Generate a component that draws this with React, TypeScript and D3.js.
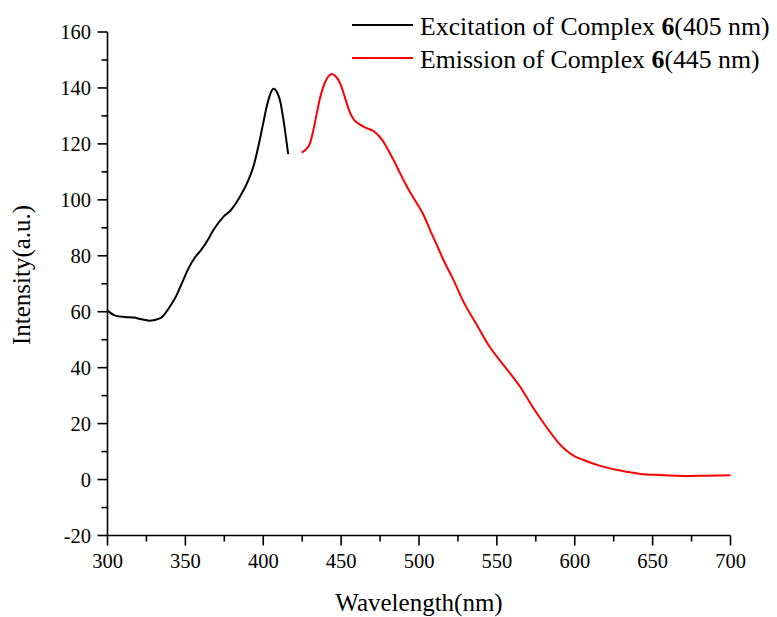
import React, { useEffect, useRef } from "react";
import * as d3 from "d3";

const excitationWavelength = [300, 305, 311, 317, 321, 327, 334, 340, 344, 348, 352, 356, 360, 364, 368, 374.5, 379, 385, 390.5, 394, 396, 398, 400, 402, 404, 406.5, 409, 411, 413, 416];
const excitationIntensity = [60.4, 58.6, 58.1, 57.9, 57.4, 56.8, 57.7, 61.8, 65.5, 70.5, 75.5, 79.3, 82, 85.3, 89.2, 94, 96.2, 101.1, 107.1, 112.5, 117, 122, 127.5, 132.8, 137, 139.7, 138.3, 135, 128.5, 116.3];

const emissionWavelength = [424.7, 427, 430, 432, 434.4, 436.5, 438.6, 441, 444, 446.5, 449.3, 451.5, 453.6, 456, 458, 461, 464.3, 467.5, 470.7, 474, 477.1, 480, 483.6, 487, 490, 494, 498.6, 503, 507.1, 511.4, 515.7, 522.1, 528.5, 537.1, 544.6, 554.2, 564.9, 573.5, 583.1, 589, 595, 600, 605.6, 616.3, 629.2, 642, 654.9, 669.8, 684.8, 700];
const emissionIntensity = [116.9, 117.8, 120.2, 124.5, 131, 136.5, 140.5, 143.5, 145, 144.2, 141.7, 138.3, 134.5, 130.8, 128.8, 127.3, 126.2, 125.4, 124.6, 123, 120.8, 118, 114.3, 110.5, 107.1, 103, 98.8, 94.5, 89.2, 83.9, 78.5, 71.4, 63.6, 55.3, 48.1, 41, 33.2, 25.5, 17.8, 13.5, 10.2, 8.3, 7.0, 4.9, 3.2, 2.0, 1.6, 1.3, 1.4, 1.5];

const xTicks = [300, 350, 400, 450, 500, 550, 600, 650, 700];
const xMinorTicks = [325, 375, 425, 475, 525, 575, 625, 675];
const yTicks = [-20, 0, 20, 40, 60, 80, 100, 120, 140, 160];
const yMinorTicks = [-10, 10, 30, 50, 70, 90, 110, 130, 150];

const seriesNames = ["Excitation of Complex ", "Emission of Complex "];
const seriesSuffix = ["(405 nm)", "(445 nm)"];
const seriesColors = ["#000000", "#ff0000"];

const W = 777;
const H = 617;
const FONT = "'Liberation Serif', 'Times New Roman', serif";

export default function App() {
  const ref = useRef<SVGSVGElement>(null);

  useEffect(() => {
    const svg = d3.select(ref.current);
    svg.selectAll("*").remove();

    const x = d3.scaleLinear().domain([300, 700]).range([107.5, 730.5]);
    const y = d3.scaleLinear().domain([-20, 160]).range([535.5, 32]);

    const g = svg.append("g");

    g.append("line").attr("x1", x(300)).attr("x2", x(700)).attr("y1", y(-20)).attr("y2", y(-20))
      .attr("stroke", "#000").attr("stroke-width", 1.6);
    g.append("line").attr("x1", x(300)).attr("x2", x(300)).attr("y1", y(-20)).attr("y2", y(160))
      .attr("stroke", "#000").attr("stroke-width", 1.6);

    xTicks.forEach((t) => {
      g.append("line").attr("x1", x(t)).attr("x2", x(t)).attr("y1", y(-20)).attr("y2", y(-20) + 10)
        .attr("stroke", "#000").attr("stroke-width", 1.6);
      g.append("text").attr("x", x(t)).attr("y", 568).attr("text-anchor", "middle")
        .attr("font-family", FONT).attr("font-size", 20.5).attr("fill", "#000").text(t);
    });
    xMinorTicks.forEach((t) => {
      g.append("line").attr("x1", x(t)).attr("x2", x(t)).attr("y1", y(-20)).attr("y2", y(-20) + 6)
        .attr("stroke", "#000").attr("stroke-width", 1.6);
    });
    yTicks.forEach((t) => {
      g.append("line").attr("x1", x(300) - 10).attr("x2", x(300)).attr("y1", y(t)).attr("y2", y(t))
        .attr("stroke", "#000").attr("stroke-width", 1.6);
      g.append("text").attr("x", 91).attr("y", y(t) + 7).attr("text-anchor", "end")
        .attr("font-family", FONT).attr("font-size", 20.5).attr("fill", "#000").text(t);
    });
    yMinorTicks.forEach((t) => {
      g.append("line").attr("x1", x(300) - 6).attr("x2", x(300)).attr("y1", y(t)).attr("y2", y(t))
        .attr("stroke", "#000").attr("stroke-width", 1.6);
    });

    g.append("text").attr("x", 419).attr("y", 611).attr("text-anchor", "middle")
      .attr("font-family", FONT).attr("font-size", 25).attr("fill", "#000").text("Wavelength(nm)");
    g.append("text").attr("transform", "translate(30,275) rotate(-90)").attr("text-anchor", "middle")
      .attr("font-family", FONT).attr("font-size", 25).attr("fill", "#000").text("Intensity(a.u.)");

    const line = d3.line<[number, number]>()
      .x((d) => x(d[0]))
      .y((d) => y(d[1]))
      .curve(d3.curveMonotoneX);

    const exData: [number, number][] = excitationWavelength.map((w, i) => [w, excitationIntensity[i]]);
    const emData: [number, number][] = emissionWavelength.map((w, i) => [w, emissionIntensity[i]]);

    g.append("path").attr("d", line(exData)).attr("fill", "none").attr("stroke", seriesColors[0]).attr("stroke-width", 2);
    g.append("path").attr("d", line(emData)).attr("fill", "none").attr("stroke", seriesColors[1]).attr("stroke-width", 2);

    const legendY = [25, 58];
    seriesNames.forEach((name, i) => {
      g.append("line").attr("x1", 352).attr("x2", 413).attr("y1", legendY[i]).attr("y2", legendY[i])
        .attr("stroke", seriesColors[i]).attr("stroke-width", 2);
      const txt = g.append("text").attr("x", 420).attr("y", legendY[i] + 10)
        .attr("font-family", FONT).attr("font-size", 25.8).attr("fill", "#000");
      txt.append("tspan").text(name);
      txt.append("tspan").attr("font-weight", "bold").text("6");
      txt.append("tspan").text(seriesSuffix[i]);
    });
  }, []);

  return (
    <svg
      ref={ref}
      width={W}
      height={H}
      style={{ position: "absolute", left: 0, top: 0, background: "#fff" }}
    />
  );
}
